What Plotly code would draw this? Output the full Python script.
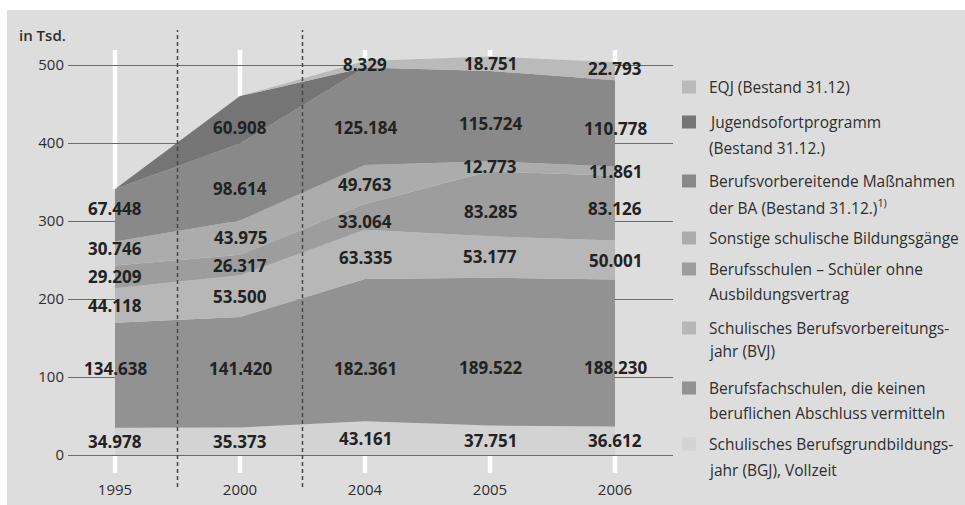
import plotly.graph_objects as go

# ---------------- data (in Tsd.) ----------------
years = ["1995", "2000", "2004", "2005", "2006"]

bgj = [34.978, 35.373, 43.161, 37.751, 36.612]
berufsfach = [134.638, 141.420, 182.361, 189.522, 188.230]
bvj = [44.118, 53.500, 63.335, 53.177, 50.001]
berufsschulen = [29.209, 26.317, 33.064, 83.285, 83.126]
sonstige = [30.746, 43.975, 49.763, 12.773, 11.861]
ba = [67.448, 98.614, 125.184, 115.724, 110.778]
jump = [0, 60.908, 0, 0, 0]
eqj = [0, 0, 8.329, 18.751, 22.793]

series_values = [bgj, berufsfach, bvj, berufsschulen, sonstige, ba, jump, eqj]
series_names = [
    "Schulisches Berufsgrundbildungs-<br>jahr (BGJ), Vollzeit",
    "Berufsfachschulen, die keinen<br>beruflichen Abschluss vermitteln",
    "Schulisches Berufsvorbereitungs-<br>jahr (BVJ)",
    "Berufsschulen – Schüler ohne<br>Ausbildungsvertrag",
    "Sonstige schulische Bildungsgänge",
    "Berufsvorbereitende Maßnahmen<br>der BA (Bestand 31.12.)<sup>1)</sup>",
    "Jugendsofortprogramm<br>(Bestand 31.12.)",
    "EQJ (Bestand 31.12)",
]
y_ticks = [0, 100, 200, 300, 400, 500]
unit_label = "in Tsd."

# ---------------- styles ----------------
colors = ["#d3d3d3", "#929292", "#b7b7b7", "#9d9d9d", "#acacac",
          "#898989", "#757575", "#bababa"]
BG = "#dddddd"
TXT = "#2e2e2e"
FONT = "Open Sans"

W, H = 965, 505
L, R, T, B = 68, 292, 50, 32
PW, PH = W - L - R, H - T - B
Y_RANGE = [-23.08, 519.23]


def px_x(px):
    return (px - L) / PW


def px_y(py):
    return (H - B - py) / PH


x_idx = list(range(len(years)))

fig = go.Figure()
for vals, name, col in zip(series_values, series_names, colors):
    fig.add_trace(go.Scatter(
        x=x_idx, y=vals, name=name.replace("<br>", " "), stackgroup="one",
        mode="none", fillcolor=col, hoverinfo="name+y", showlegend=False))

# value labels, centred in each band (with small pixel nudges)
nudge = {(1, 0): 7, (5, 0): 7, (4, 0): 5,
         (6, 1): -8, (5, 1): -6, (1, 1): 4,
         (5, 2): -11, (3, 2): -5, (2, 2): -3, (1, 2): -18,
         (5, 3): -7, (3, 3): -8, (1, 3): -16,
         (7, 4): 3, (5, 4): -5, (1, 4): -14}
annotations = []
totals = []
for i in x_idx:
    base = 0.0
    for s, vals in enumerate(series_values):
        v = vals[i]
        if v > 0:
            annotations.append(dict(
                x=i, y=base + v / 2, xref="x", yref="y", text=f"{v:.3f}",
                showarrow=False, xanchor="center", yanchor="middle",
                yshift=nudge.get((s, i), 0),
                font=dict(family=FONT, size=17, color="#222222", weight="bold")))
        base += v
    totals.append(base)

annotations.append(dict(x=px_x(17), y=px_y(35), xref="paper", yref="paper",
                        text=unit_label, showarrow=False, xanchor="left",
                        yanchor="middle",
                        font=dict(family=FONT, size=15, color=TXT, weight=600)))

# background panel
shapes = [dict(type="rect", xref="paper", yref="paper", layer="below",
               x0=px_x(7), x1=px_x(W), y0=px_y(H), y1=px_y(10),
               fillcolor=BG, line=dict(width=0))]

# white year lines (visible above the stack and below the zero line)
for i, tot in zip(x_idx, totals):
    for y0, y1 in ((tot, Y_RANGE[1]), (Y_RANGE[0], 0)):
        shapes.append(dict(type="line", xref="x", yref="y", layer="below",
                           x0=i, x1=i, y0=y0, y1=y1,
                           line=dict(color="white", width=4.5)))

# manual legend (top entry = top of stack)
legend_lines_y = [[444, 470], [388, 413], [328, 351], [269, 294], [238],
                  [181, 207], [122, 148], [87]]
for name, col, ys in zip(series_names, colors, legend_lines_y):
    for line_txt, yy in zip(name.split("<br>"), ys):
        annotations.append(dict(x=px_x(707), y=px_y(yy), xref="paper",
                                yref="paper", text=line_txt, showarrow=False,
                                xanchor="left", yanchor="middle",
                                font=dict(family=FONT, size=15.5, color=TXT)))
    shapes.append(dict(type="rect", xref="paper", yref="paper",
                       x0=px_x(682), x1=px_x(696), y0=px_y(ys[0] + 6.5),
                       y1=px_y(ys[0] - 6.5), fillcolor=col, line=dict(width=0)))

# dashed separators between non-consecutive years
for xs in (0.5, 1.5):
    shapes.append(dict(type="line", xref="x", yref="paper", x0=xs, x1=xs,
                       y0=px_y(487), y1=px_y(30),
                       line=dict(color="#474747", width=1.5, dash="4px,3px")))

fig.update_layout(
    width=W, height=H,
    margin=dict(l=L, r=R, t=T, b=B, autoexpand=False),
    paper_bgcolor="white", plot_bgcolor="rgba(0,0,0,0)",
    showlegend=False,
    annotations=annotations, shapes=shapes,
    font=dict(family=FONT, color=TXT),
)
fig.update_xaxes(range=[-0.376, 4.464], tickvals=x_idx, ticktext=years,
                 showgrid=False, zeroline=False, showline=False, ticks="",
                 ticklabelstandoff=6,
                 tickfont=dict(family=FONT, size=15, color=TXT))
fig.update_yaxes(range=Y_RANGE, tickvals=y_ticks,
                 showgrid=True, gridcolor="#6b6b6b", gridwidth=1.2,
                 zeroline=False, showline=False, ticks="",
                 ticklabelstandoff=3,
                 tickfont=dict(family=FONT, size=15, color=TXT))

fig.write_html("out.html")
